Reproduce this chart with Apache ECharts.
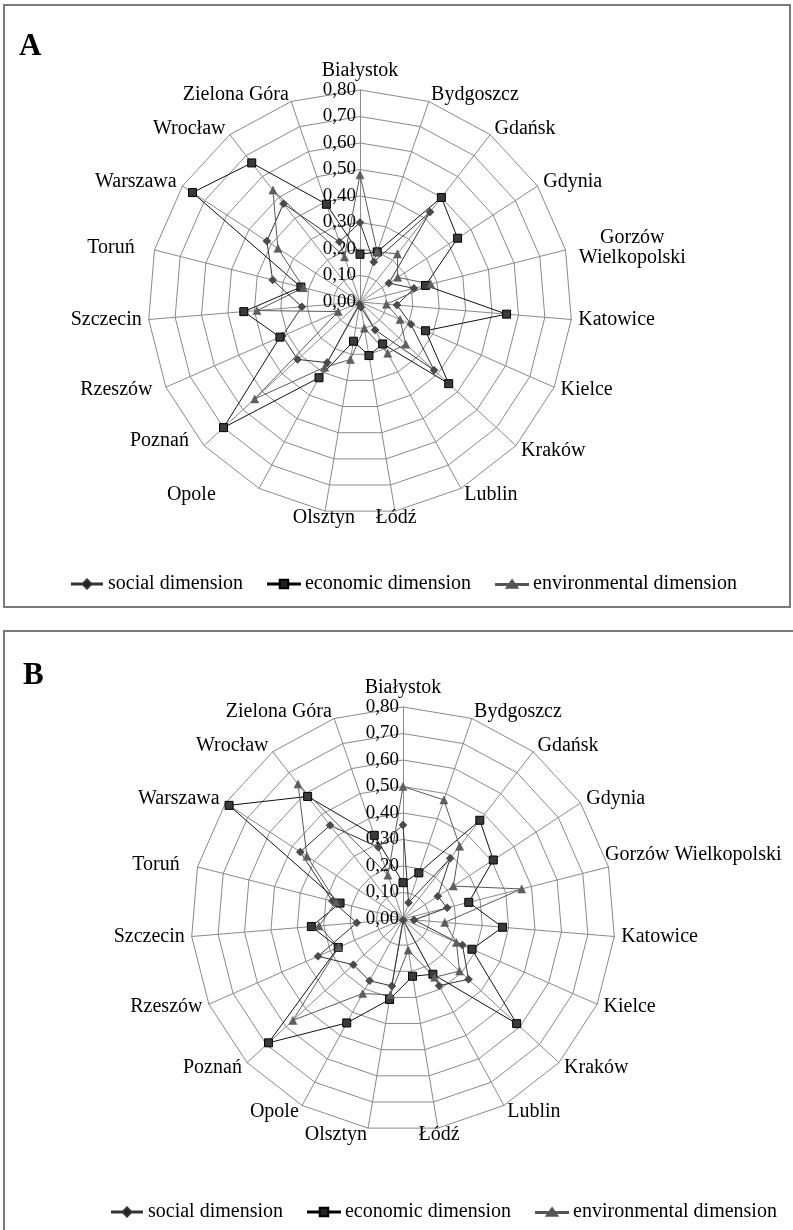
<!DOCTYPE html>
<html><head><meta charset="utf-8">
<script src="https://cdn.jsdelivr.net/npm/echarts@6/dist/echarts.min.js"></script>
<style>html,body{margin:0;padding:0;background:#fff}#c{width:793px;height:1230px}</style>
</head><body><div id="c"></div>
<script>
// Cities in clockwise order starting from the top
const cities = ['Białystok','Bydgoszcz','Gdańsk','Gdynia','Gorzów Wielkopolski','Katowice','Kielce','Kraków','Lublin','Łódź','Olsztyn','Opole','Poznań','Rzeszów','Szczecin','Toruń','Warszawa','Wrocław','Zielona Góra'];
const seriesNames = ['social dimension','economic dimension','environmental dimension'];
const axisMin = 0, axisMax = 0.8, axisSplits = 8;

// Panel A
const socialA        = [0.30,0.16,0.43,0.13,0.21,0.14,0.21,0.38,0.12,0.02,0.01,0.26,0.32,0.32,0.22,0.34,0.42,0.47,0.24];
const economicA      = [0.18,0.20,0.50,0.44,0.255,0.555,0.27,0.455,0.18,0.205,0.15,0.325,0.70,0.33,0.44,0.23,0.755,0.665,0.39];
const environmentalA = [0.48,0.20,0.23,0.17,0.275,0.10,0.165,0.235,0.22,0.10,0.22,0.28,0.54,0.09,0.39,0.22,0.37,0.535,0.18];

// Panel B
const socialB        = [0.355,0.065,0.29,0.157,0.172,0.042,0.245,0.336,0.286,0.005,0.256,0.265,0.255,0.35,0.175,0.275,0.463,0.448,0.286];
const economicB      = [0.137,0.184,0.472,0.407,0.256,0.377,0.284,0.583,0.237,0.219,0.308,0.446,0.69,0.267,0.347,0.245,0.784,0.586,0.334];
const environmentalB = [0.50,0.475,0.348,0.227,0.462,0.158,0.22,0.29,0.25,0.119,0.29,0.32,0.565,0.265,0.318,0.26,0.433,0.645,0.175];

const FONT = "'Liberation Serif', 'Times New Roman', serif";

// Per-panel name label placement tweaks (style only)
const nameStyleA = {
  'Gorzów Wielkopolski': {align:'center', verticalAlign:'middle', padding:[0,0,0,120]},
  'Łódź': {align:'center', verticalAlign:'middle'},
  'Olsztyn': {align:'center', verticalAlign:'middle'},
  'Opole': {padding:[0,40,0,0]},
  'Poznań': {verticalAlign:'bottom', padding:[0,10,0,0]},
  'Rzeszów': {padding:[0,7,0,0]},
  'Toruń': {padding:[0,13,0,0]}
};
const nameStyleB = {
  'Gorzów Wielkopolski': {align:'center', verticalAlign:'bottom', padding:[0,0,0,156]},
  'Łódź': {align:'center', verticalAlign:'middle'},
  'Toruń': {padding:[0,11,0,0]}
};

// ECharts radar places indicators counter-clockwise; reorder so the chart reads clockwise
const order = [0].concat(Array.from({length: cities.length - 1}, (_, k) => cities.length - 1 - k));
const reorder = arr => order.map(i => arr[i]);

const styles = [
  {symbol:'diamond', symbolSize:8, itemStyle:{color:'#4a4a4a', borderColor:'#333', borderWidth:0.5}, lineStyle:{color:'#333', width:1}},
  {symbol:'rect', symbolSize:8, itemStyle:{color:'#3a3a3a', borderColor:'#000', borderWidth:1}, lineStyle:{color:'#111', width:1}},
  {symbol:'triangle', symbolSize:8, itemStyle:{color:'#5e5e5e', borderColor:'#555', borderWidth:0.5}, lineStyle:{color:'#5a5a5a', width:1}}
];
const icons = [
  'path://M0,4.5H11L15,0.5L19,4.5H30V5.5H19L15,9.5L11,5.5H0Z',
  'path://M0,4.5H11V1H19V4.5H30V5.5H19V9H11V5.5H0Z',
  'path://M0,4.5H12.5L15,1L17.5,4.5H30V5.5H18.2L20,8H10L11.8,5.5H0Z'
];

function makeRadar(center, splitGorzow, nameStyles) {
  return {
    center: center, radius: 212, startAngle: 90, shape: 'polygon',
    splitNumber: axisSplits,
    indicator: order.map((i, k) => {
      const ind = {name: cities[i], min: axisMin, max: axisMax};
      if (k === 0) ind.axisLabel = {show: true};
      if (nameStyles[cities[i]]) ind.nameTextStyle = Object.assign({}, nameStyles[cities[i]]);
      return ind;
    }),
    axisNameGap: 7,
    axisName: {
      color:'#000', fontFamily: FONT, fontSize: 20,
      formatter: n => (splitGorzow && n === 'Gorzów Wielkopolski') ? 'Gorzów\nWielkopolski' : n
    },
    axisLine: {lineStyle:{color:'#8a8a8a', width:1}},
    splitLine: {lineStyle:{color:'#8a8a8a', width:1}},
    splitArea: {show:false},
    axisTick: {show:false},
    axisLabel: {show:false, color:'#000', fontFamily: FONT, fontSize: 19, margin: 4,
      formatter: v => Number(v).toFixed(2).replace('.', ',')}
  };
}

function makeSeries(idx, arrays) {
  return {
    type:'radar', radarIndex: idx, silent: true,
    data: arrays.map((arr, s) => Object.assign({name: seriesNames[s], value: reorder(arr)}, styles[s]))
  };
}

function makeLegend(left, top) {
  return {
    left: left, top: top, itemWidth: 32, itemHeight: 9, itemGap: 24, selectedMode: false,
    textStyle: {color:'#000', fontFamily: FONT, fontSize: 20},
    data: seriesNames.map((n, s) => ({name: n, icon: icons[s], itemStyle: {color: s === 2 ? '#555' : '#222'},
      textStyle: {color:'#000', fontFamily: FONT, fontSize: 20}}))
  };
}

const chart = echarts.init(document.getElementById('c'), null, {renderer:'canvas'});
chart.setOption({
  animation: false,
  backgroundColor: '#fff',
  textStyle: {fontFamily: FONT},
  title: [
    {text:'A', left: 14, top: 26, textStyle:{fontFamily: FONT, fontWeight:'bold', fontSize: 31, color:'#000'}},
    {text:'B', left: 18, top: 655, textStyle:{fontFamily: FONT, fontWeight:'bold', fontSize: 31, color:'#000'}}
  ],
  graphic: [
    {type:'rect', shape:{x:4, y:5, width:786, height:602}, style:{fill:'none', stroke:'#7a7a7a', lineWidth:2}, silent:true},
    {type:'rect', shape:{x:4, y:631, width:820, height:700}, style:{fill:'none', stroke:'#7a7a7a', lineWidth:2}, silent:true}
  ],
  legend: [makeLegend(66, 569), makeLegend(106, 1197)],
  radar: [makeRadar([360, 302], true, nameStyleA), makeRadar([403, 919], false, nameStyleB)],
  series: [
    makeSeries(0, [socialA, economicA, environmentalA]),
    makeSeries(1, [socialB, economicB, environmentalB])
  ]
});
</script></body></html>
